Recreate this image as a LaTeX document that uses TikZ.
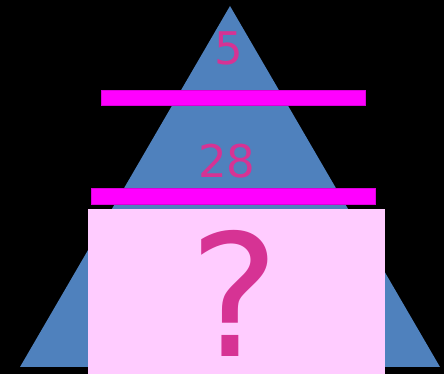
\documentclass[tikz,border=0pt]{standalone}
\usepackage{fontspec}
\setmainfont{DejaVu Sans}
\definecolor{tri}{HTML}{4F81BD}
\definecolor{bar}{HTML}{FF00FF}
\definecolor{card}{HTML}{FFCCFF}
\definecolor{num}{HTML}{D63394}

\begin{document}
\begin{tikzpicture}[x=1pt,y=1pt,bar/.style={fill=bar,draw=bar!85!black,line width=0.5pt},numtext/.style={text=num,anchor=base,inner sep=0pt,text depth=0pt}]
\fill[black] (0,0) rectangle (444,374);
\useasboundingbox (0,0) rectangle (444,374);
\fill[tri] (20,7) -- (230,368) -- (440,7) -- cycle;
\draw[bar] (101,269) rectangle (365,284);
\draw[bar] (91,170) rectangle (375,186);
\fill[card] (88,0) rectangle (385,165);
\node[numtext,font=\fontsize{45}{50}\selectfont] (top) at (229,309) {5};
\node[numtext,font=\fontsize{45}{50}\selectfont] (mid) at (227,196) {28};
\node[numtext,font=\fontsize{170}{176}\selectfont] (ask) at (235,17) {?};
\end{tikzpicture}
\end{document}
